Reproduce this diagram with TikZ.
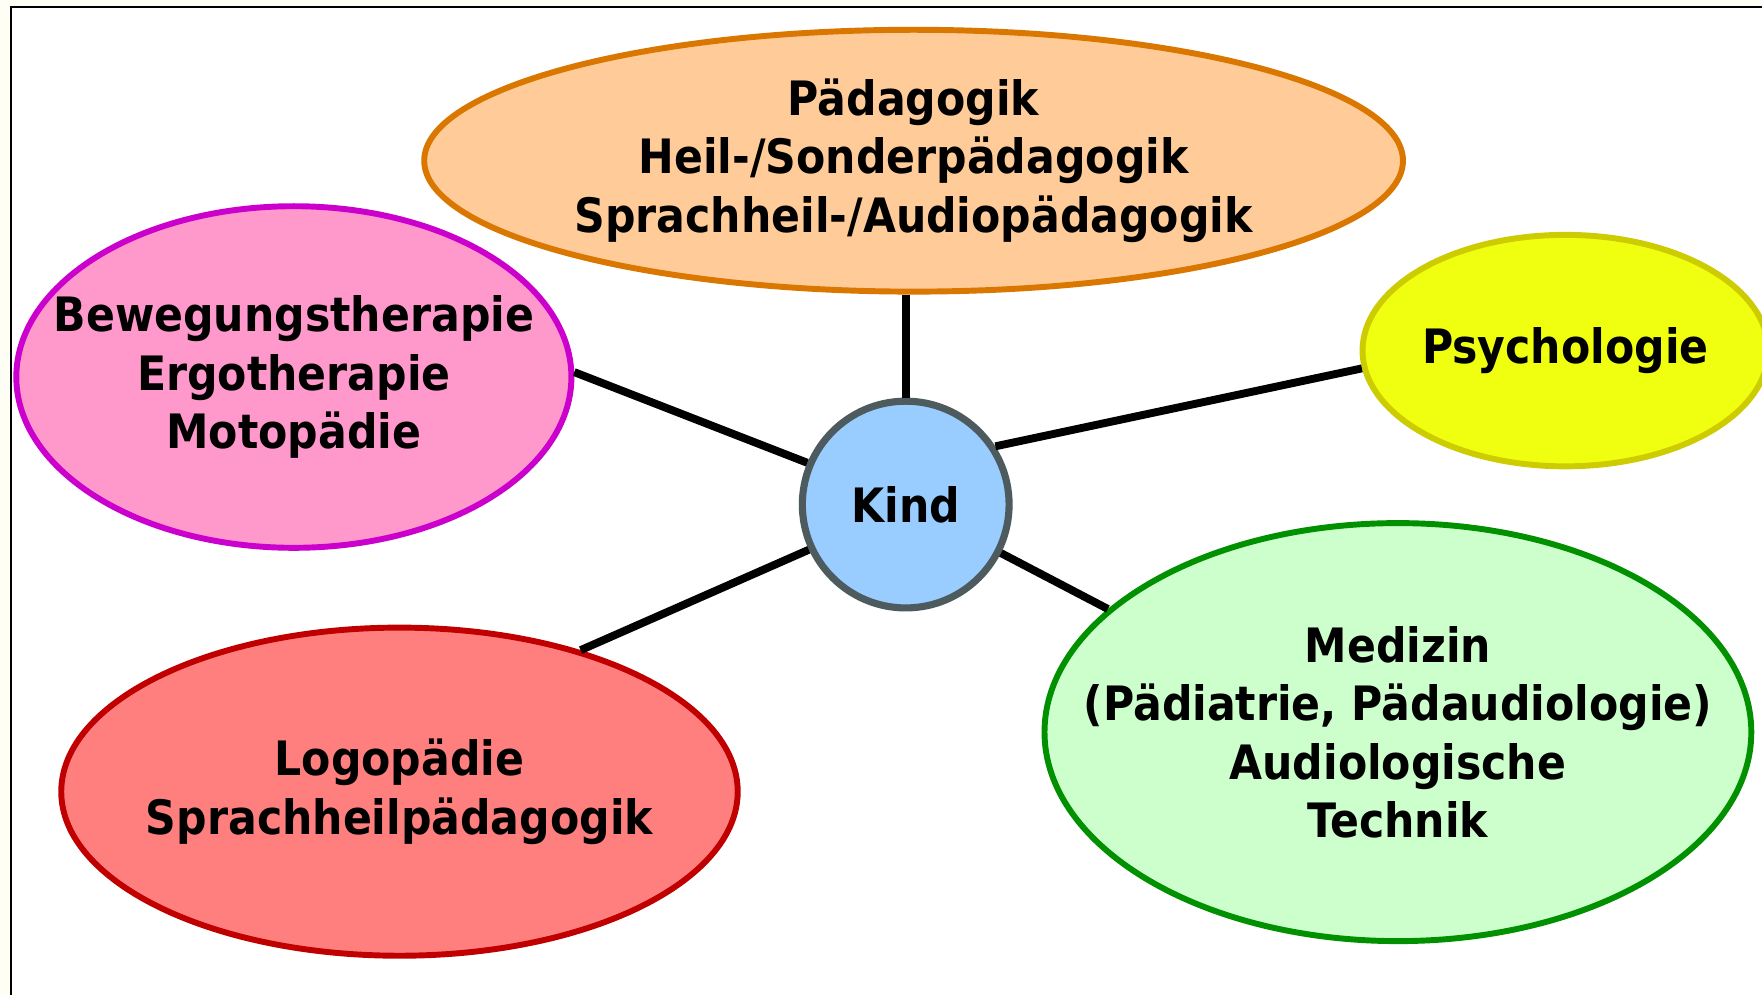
\documentclass[tikz,border=0pt]{standalone}
\usepackage{fontspec}
\setmainfont{DejaVu Sans Condensed}
\usetikzlibrary{shapes.geometric}
\definecolor{paper}{HTML}{FFFEF5}
\definecolor{paedfill}{HTML}{FFCC99}
\definecolor{paedline}{HTML}{D97700}
\definecolor{motofill}{HTML}{FF99CC}
\definecolor{motoline}{HTML}{CC00CC}
\definecolor{psyfill}{HTML}{F0FF10}
\definecolor{psyline}{HTML}{CCCC00}
\definecolor{kindfill}{HTML}{99CCFF}
\definecolor{kindline}{HTML}{4D5A5E}
\definecolor{medfill}{HTML}{CCFFCC}
\definecolor{medline}{HTML}{009000}
\definecolor{logofill}{HTML}{FF7F7F}
\definecolor{logoline}{HTML}{C00000}
\tikzset
{
	fieldnode/.style = {ellipse, line width=1.5pt, align=center, inner xsep=-10mm, inner ysep=0pt, font=\bfseries\fontsize{12}{14.8}\selectfont},
	kindnode/.style  = {circle, draw=kindline, fill=kindfill, line width=1.8pt, minimum size=18.4mm, inner sep=0pt, font=\bfseries\fontsize{12}{14.8}\selectfont},
	link/.style      = {line width=2pt}
}

\begin{document}
\begin{tikzpicture}[x=0.1mm, y=-0.1mm]
\useasboundingbox[fill=paper] (0,0) rectangle (1568,885);
\draw[fill=white, line width=0.6pt] (10,6) rectangle (1600,920);

\node[fieldnode, draw=paedline, fill=paedfill, minimum width=87.1mm, minimum height=23.3mm] (paed) at (813,143)
  {Pädagogik\\Heil-/Sonderpädagogik\\Sprachheil-/Audiopädagogik};
\node[fieldnode, draw=motoline, fill=motofill, minimum width=49.4mm, minimum height=30.4mm] (moto) at (261.5,335.5)
  {Bewegungstherapie\\Ergotherapie\\Motopädie};
\node[fieldnode, draw=psyline, fill=psyfill, minimum width=36.1mm, minimum height=20.6mm] (psy) at (1393,312)
  {Psychologie};
\node[fieldnode, draw=medline, fill=medfill, minimum width=62.9mm, minimum height=37.2mm] (med) at (1244,651.5)
  {Medizin\\(Pädiatrie, Pädaudiologie)\\Audiologische\\Technik};
\node[fieldnode, draw=logoline, fill=logofill, minimum width=60.2mm, minimum height=29.2mm] (logo) at (355.5,704.5)
  {Logopädie\\Sprachheilpädagogik};
\node[kindnode] (kind) at (806,449) {Kind};

\draw[link] (kind.north) -- (kind.north |- paed.south);
\draw[link] (kind.157) -- (moto.1);
\draw[link] (kind.33) -- (psy.185);
\draw[link] (kind.333) -- (med.157);
\draw[link] (kind.205) -- (logo.38);
\end{tikzpicture}
\end{document}
